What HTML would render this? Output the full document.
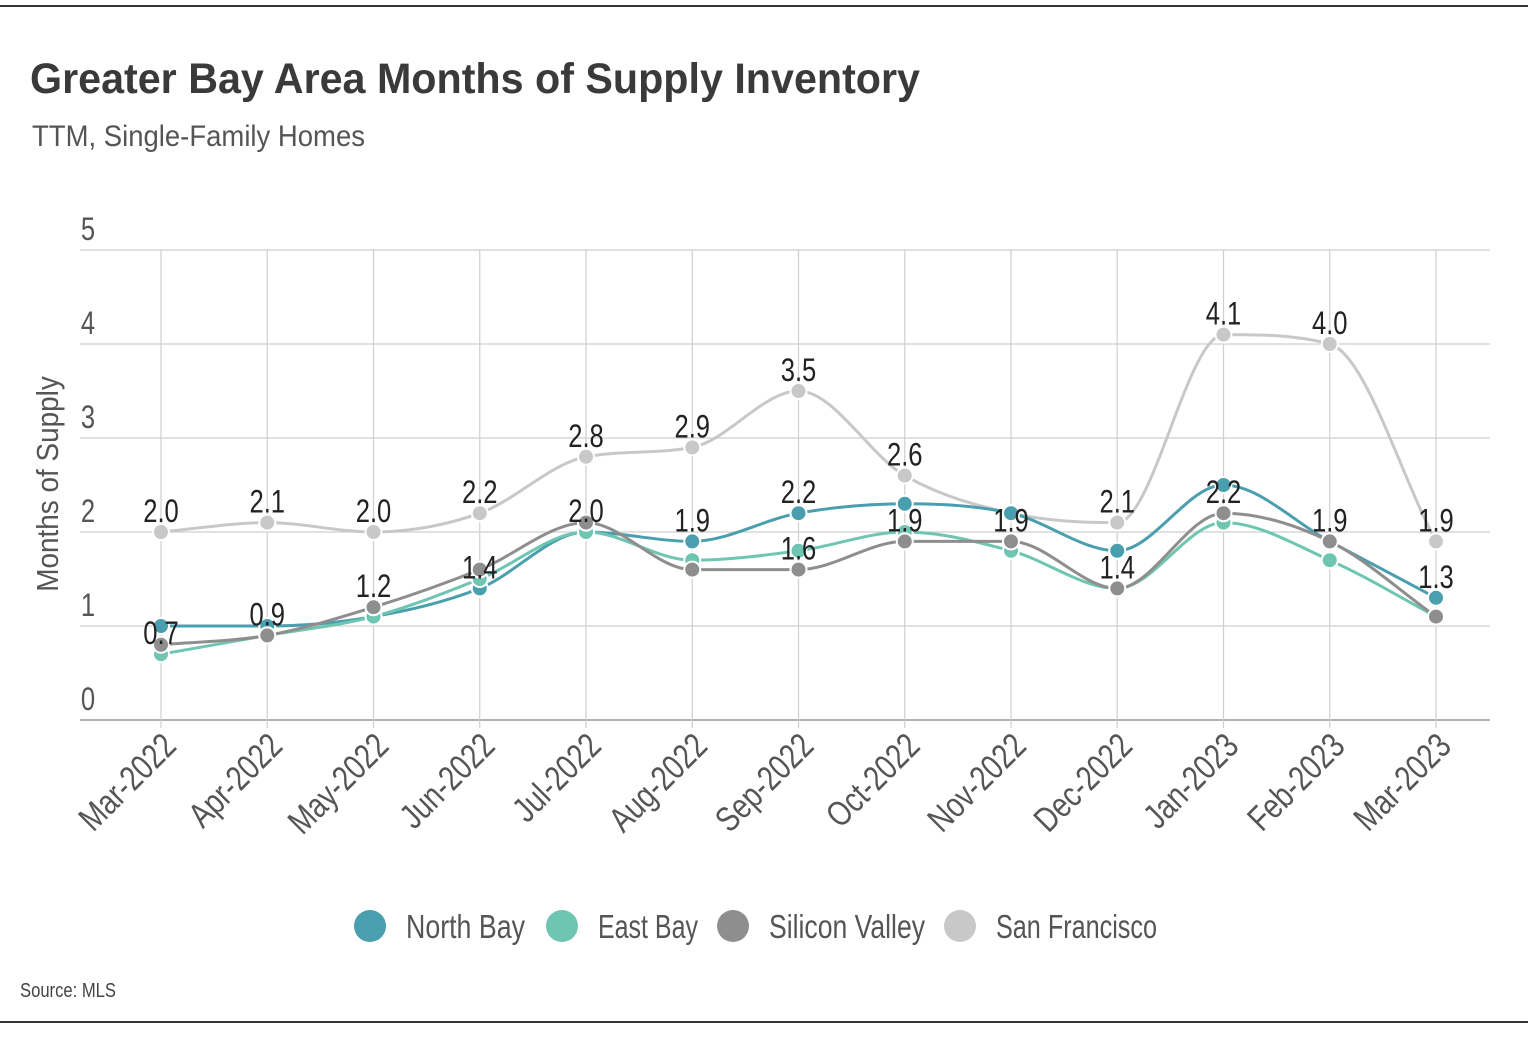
<!DOCTYPE html>
<html><head><meta charset="utf-8"><style>
body{margin:0;background:#fff;width:1534px;height:1040px;overflow:hidden;font-family:"Liberation Sans",sans-serif;}
svg{position:absolute;left:0;top:0}
</style></head><body>
<svg id="c" width="1534" height="1040">
<line x1="0" y1="6" x2="1528" y2="6" stroke="#333" stroke-width="2"/>
<line x1="0" y1="1022" x2="1528" y2="1022" stroke="#333" stroke-width="2"/>
<text x="30" y="93" font-size="43" font-weight="bold" fill="#3a3a3a" textLength="890" lengthAdjust="spacingAndGlyphs">Greater Bay Area Months of Supply Inventory</text>
<text x="32" y="146" font-size="30" fill="#555" textLength="333" lengthAdjust="spacingAndGlyphs">TTM, Single-Family Homes</text>
<text transform="translate(58,484) rotate(-90) scale(0.9,1)" text-anchor="middle" font-size="31" fill="#555">Months of Supply</text>
<text x="20" y="997" font-size="20" fill="#444" textLength="96" lengthAdjust="spacingAndGlyphs">Source:  MLS</text>
<g id="grid"></g><g id="lines"></g><g id="labels"></g><g id="legend"></g>
</svg>
<script>
const categories=["Mar-2022","Apr-2022","May-2022","Jun-2022","Jul-2022","Aug-2022","Sep-2022","Oct-2022","Nov-2022","Dec-2022","Jan-2023","Feb-2023","Mar-2023"];
const northBay=[1.0,1.0,1.1,1.4,2.0,1.9,2.2,2.3,2.2,1.8,2.5,1.9,1.3];
const eastBay=[0.7,0.9,1.1,1.5,2.0,1.7,1.8,2.0,1.8,1.4,2.1,1.7,1.1];
const siliconValley=[0.8,0.9,1.2,1.6,2.1,1.6,1.6,1.9,1.9,1.4,2.2,1.9,1.1];
const sanFrancisco=[2.0,2.1,2.0,2.2,2.8,2.9,3.5,2.6,2.2,2.1,4.1,4.0,1.9];
const labelIndex=[0,1,2,3,4,5,6,6,7,8,9,10,11,12, 0,1,2,3,4,5,6,7,9,10,11,12];
const labelValues=[0.7,0.9,1.2,1.4,2.0,1.9,2.2,1.6,1.9,1.9,1.4,2.2,1.9,1.3, 2.0,2.1,2.0,2.2,2.8,2.9,3.5,2.6,2.1,4.1,4.0,1.9];
const yTicks=[0,1,2,3,4,5];
const seriesNames=["North Bay","East Bay","Silicon Valley","San Francisco"];
const NS="http://www.w3.org/2000/svg";
const X=i=>161+i*106.25, Y=v=>720-v*94;
function mk(t,a,p){const e=document.createElementNS(NS,t);for(const k in a)e.setAttribute(k,a[k]);p.appendChild(e);return e;}
const grid=document.getElementById('grid'),lines=document.getElementById('lines'),labels=document.getElementById('labels'),legend=document.getElementById('legend');
yTicks.forEach(t=>{
 const l=mk('line',{x1:80,x2:1490,y1:Y(t),y2:Y(t),stroke:t==0?'#999':'#cfcfcf','stroke-width':t==0?1.5:1.2},grid);
 
 
 const tx=mk('text',{transform:`translate(88,${Y(t)-10}) scale(0.8,1)`,'text-anchor':'middle','font-size':32,fill:'#555'},grid);tx.textContent=t;
 
 
});
categories.forEach((c,i)=>{
 const l=mk('line',{x1:X(i),x2:X(i),y1:Y(5),y2:Y(0)+8,stroke:'#cfcfcf','stroke-width':1.2},grid);
 
 
 const tx=mk('text',{transform:`translate(${X(i)+17},${748}) rotate(-45) scale(0.8,1)`,'text-anchor':'end','font-size':35,fill:'#555'},grid);tx.textContent=c;
 
 
});
function path(vals){
 const n=vals.length,xs=vals.map((v,i)=>X(i)),ys=vals.map(v=>Y(v));
 const d=[],m=[];for(let i=0;i<n-1;i++)d.push((ys[i+1]-ys[i])/(xs[i+1]-xs[i]));
 for(let i=0;i<n;i++){if(i==0)m.push(d[0]);else if(i==n-1)m.push(d[n-2]);else m.push(d[i-1]*d[i]<=0?0:(d[i-1]+d[i])/2);}
 for(let i=0;i<n-1;i++){if(d[i]==0){m[i]=0;m[i+1]=0;continue;}const a=m[i]/d[i],b=m[i+1]/d[i],s=a*a+b*b;if(s>9){const t=3/Math.sqrt(s);m[i]=t*a*d[i];m[i+1]=t*b*d[i];}}
 let p=`M${xs[0]},${ys[0]}`;
 for(let i=0;i<n-1;i++){const h=(xs[i+1]-xs[i])/3;p+=` C${xs[i]+h},${ys[i]+m[i]*h} ${xs[i+1]-h},${ys[i+1]-m[i+1]*h} ${xs[i+1]},${ys[i+1]}`;}
 return p;}
const series=[[sanFrancisco,'#c8c8c8','san-francisco'],[northBay,'#4a9fae','north-bay'],[eastBay,'#6ec6b2','east-bay'],[siliconValley,'#8e8e8e','silicon-valley']];
series.forEach(([vals,col,nm])=>{
 const p=mk('path',{d:path(vals),fill:'none',stroke:col,'stroke-width':3},lines);
 
 
 vals.forEach((v,i)=>{const c=mk('circle',{cx:X(i),cy:Y(v),r:8,fill:col,stroke:'#fff','stroke-width':2},lines);
 
 });
});
labelValues.forEach((v,k)=>{
 const t=mk('text',{transform:`translate(${X(labelIndex[k])},${Y(v)-10}) scale(0.8,1)`,'text-anchor':'middle','font-size':32,fill:'#222'},labels);
 t.textContent=v.toFixed(1);
 
 
});
const lx=[370,562,733,960],lw=[119,100,156,161],cols=['#4a9fae','#6ec6b2','#8e8e8e','#c8c8c8'];
seriesNames.forEach((n,i)=>{
 const c=mk('circle',{cx:lx[i],cy:926,r:16,fill:cols[i]},legend);
 
 
 const t=mk('text',{x:lx[i]+36,y:938,'font-size':33,fill:'#555',textLength:lw[i],lengthAdjust:'spacingAndGlyphs'},legend);t.textContent=n;
 
 
});
</script>
</body></html>
